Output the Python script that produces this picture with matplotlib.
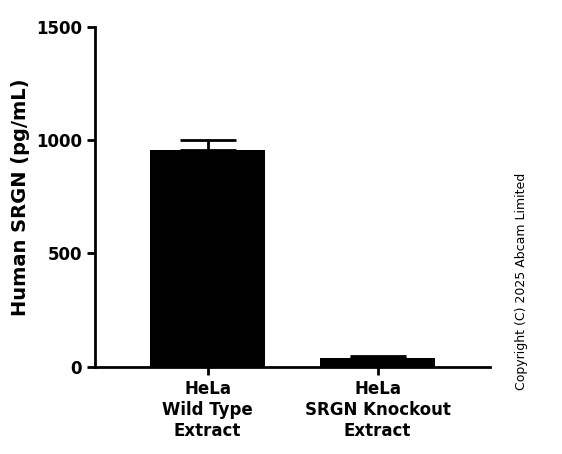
import matplotlib
matplotlib.use("Agg")
import matplotlib.pyplot as plt

categories = ["HeLa\nWild Type\nExtract", "HeLa\nSRGN Knockout\nExtract"]
values = [957, 40]
errors = [44, 8]

fig = plt.figure(figsize=(5.62, 4.54), dpi=100)
ax = fig.add_axes([0.169, 0.192, 0.703, 0.749])
x = [0, 1]
ax.bar(x, values, width=0.676, color="black")
ax.errorbar(x, values, yerr=[[0, 0], errors], fmt="none", ecolor="black",
            capsize=20, elinewidth=2, capthick=2)
ax.set_xlim(-0.662, 1.662)
ax.set_ylim(0, 1500)
ax.set_yticks([0, 500, 1000, 1500])
ax.set_xticks(x)
ax.set_xticklabels(categories, fontsize=12, fontweight="bold")
ax.tick_params(axis="y", labelsize=12, width=2, length=6)
ax.tick_params(axis="x", width=2, length=6)
for t in ax.get_yticklabels():
    t.set_fontweight("bold")
ax.spines["top"].set_visible(False)
ax.spines["right"].set_visible(False)
ax.spines["left"].set_linewidth(2)
ax.spines["bottom"].set_linewidth(2)
ax.set_ylabel("Human SRGN (pg/mL)", fontsize=14, fontweight="bold")
fig.text(0.928, 0.38, "Copyright (C) 2025 Abcam Limited", rotation=90,
         fontsize=9, ha="center", va="center")
fig.savefig("out.png", dpi=100)
